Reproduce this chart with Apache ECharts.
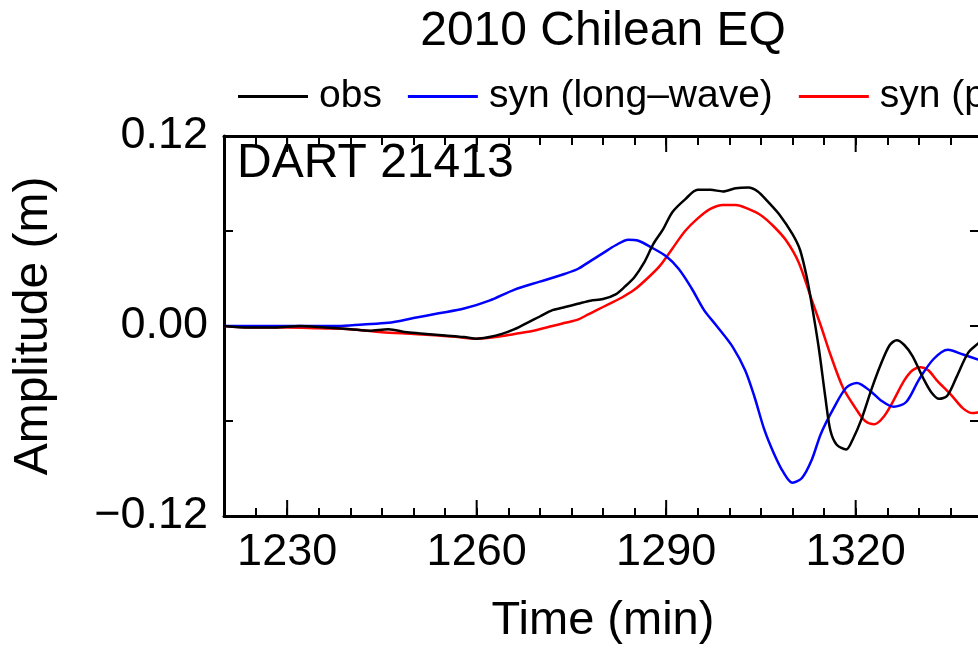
<!DOCTYPE html>
<html>
<head>
<meta charset="utf-8">
<script src="https://cdn.jsdelivr.net/npm/echarts@6/dist/echarts.min.js"></script>
<style>
html, body { margin: 0; padding: 0; overflow: hidden; background: #fff; width: 978px; height: 650px; }
#chart { width: 1206px; height: 650px; }
</style>
</head>
<body>
<div id="chart"></div>
<script>
// ---- data (time in min, amplitude in m) ----
const titleText = '2010 Chilean EQ';
const stationText = 'DART 21413';
const seriesNames = ['obs', 'syn (long\u2013wave)', 'syn (phase\u2013corrected)'];
const xLabelValues = [1230, 1260, 1290, 1320];
const yLabelValues = [-0.12, 0, 0.12];

const timeObs = [1220,1224,1228,1232,1236,1240,1243,1246,1249,1252,1255,1258,1260,1262,1264,1266,1268,1270,1272,1274,1276,1278,1280,1282,1283.5,1285,1286.5,1288,1289.5,1291,1293,1295,1297,1299,1301,1303,1304.5,1306,1308,1310,1311.2,1312.3,1313.2,1314.2,1315.2,1316,1317,1318.5,1319.5,1321,1322.5,1324,1325.4,1326.5,1327.7,1329,1330.7,1332,1333.2,1334.5,1336,1337.8,1339.4,1340];
const obs = [0.000,-0.001,-0.001,0.000,-0.001,-0.002,-0.003,-0.002,-0.004,-0.005,-0.006,-0.007,-0.008,-0.007,-0.005,-0.002,0.002,0.006,0.010,0.012,0.014,0.016,0.017,0.020,0.025,0.031,0.040,0.052,0.061,0.072,0.080,0.086,0.086,0.085,0.087,0.0875,0.085,0.079,0.070,0.058,0.048,0.030,0.010,-0.015,-0.045,-0.066,-0.075,-0.078,-0.072,-0.058,-0.040,-0.024,-0.012,-0.009,-0.012,-0.019,-0.033,-0.042,-0.046,-0.044,-0.032,-0.017,-0.011,-0.009];

const timeLong = [1220,1230,1238,1242,1246,1250,1254,1258,1262,1266,1270,1274,1276,1278,1280,1282,1284,1285.5,1287.5,1290,1292,1294,1296,1298,1300.5,1302.5,1304,1305.5,1307,1308.5,1310,1311.5,1313,1314.5,1316.5,1318.5,1320.2,1322.3,1324,1326,1328,1330,1332.3,1334.6,1337,1340];
const synLong = [0.000,0.000,0.000,0.001,0.002,0.005,0.008,0.011,0.016,0.023,0.028,0.033,0.036,0.041,0.046,0.051,0.0545,0.054,0.050,0.044,0.036,0.024,0.010,0.000,-0.013,-0.028,-0.045,-0.065,-0.080,-0.092,-0.099,-0.096,-0.085,-0.068,-0.052,-0.039,-0.036,-0.041,-0.047,-0.051,-0.048,-0.034,-0.021,-0.015,-0.018,-0.022];

const timePhase = [1220,1225,1230,1235,1240,1245,1250,1254,1257,1260,1263,1266,1269,1272,1274,1276,1277.5,1279,1281,1283,1285,1287,1289,1291,1293,1295,1297,1299,1301,1303,1305,1307,1309,1311,1313,1314.5,1316,1318,1320,1321.5,1323,1324.5,1326,1327.6,1329,1330.3,1331.5,1333,1335,1337,1338.5,1340];
const synPhase = [0.000,-0.001,-0.001,-0.0015,-0.002,-0.004,-0.005,-0.006,-0.007,-0.008,-0.007,-0.005,-0.003,0.000,0.002,0.004,0.007,0.010,0.014,0.018,0.023,0.030,0.038,0.049,0.060,0.068,0.074,0.0765,0.0765,0.074,0.070,0.063,0.054,0.040,0.017,0.000,-0.018,-0.039,-0.052,-0.060,-0.062,-0.057,-0.047,-0.035,-0.028,-0.026,-0.028,-0.035,-0.043,-0.052,-0.055,-0.054];

const colors = ['#000000', '#0000ff', '#ff0000'];
const FONT = 'Liberation Sans, Arial, Helvetica, sans-serif';
const Y_MIN = -0.12, Y_MAX = 0.12;
const MAJOR_TICK_LEN = 16;

function pairs(t, v) { return t.map((x, i) => [x, v[i]]); }

const chart = echarts.init(document.getElementById('chart'), null, { renderer: 'canvas' });

const frameLine = { show: true, onZero: false, lineStyle: { color: '#000', width: 3 } };

chart.setOption({
  animation: false,
  backgroundColor: '#fff',
  title: {
    text: titleText, left: 'center', top: 3,
    textStyle: { fontFamily: FONT, fontSize: 48, fontWeight: 'normal', color: '#000' }
  },
  legend: {
    left: 238, top: 77, width: 1400, padding: 0,
    itemWidth: 70, itemHeight: 3, itemGap: 26,
    icon: 'rect',
    data: seriesNames,
    textStyle: { fontFamily: FONT, fontSize: 39, color: '#000', padding: [0, 0, 0, 6] }
  },
  graphic: [{
    type: 'text', left: 237, top: 140,
    style: { text: stationText, font: '48px ' + FONT, fill: '#000' }
  }],
  grid: { left: 224, right: 224, top: 136, bottom: 132, containLabel: false },
  xAxis: [
    {
      type: 'value', position: 'bottom', min: 1220, max: 1340, interval: 5,
      name: 'Time (min)', nameLocation: 'middle', nameGap: 82,
      nameTextStyle: { fontFamily: FONT, fontSize: 47, color: '#000' },
      axisLine: frameLine,
      axisTick: { show: true, inside: true, length: 8, lineStyle: { color: '#000', width: 2 } },
      axisLabel: {
        show: true, margin: 14, fontFamily: FONT, fontSize: 45, color: '#000',
        formatter: v => (xLabelValues.indexOf(v) >= 0 ? String(v) : '')
      },
      splitLine: { show: false }
    },
    {
      type: 'value', position: 'top', min: 1220, max: 1340, interval: 5,
      axisLine: frameLine,
      axisTick: { show: true, inside: true, length: 9, lineStyle: { color: '#000', width: 2 } },
      axisLabel: { show: false }, splitLine: { show: false }
    }
  ],
  yAxis: [
    {
      type: 'value', position: 'left', min: Y_MIN, max: Y_MAX, interval: 0.06,
      name: 'Amplitude (m)', nameLocation: 'middle', nameGap: 166,
      nameTextStyle: { fontFamily: FONT, fontSize: 48, color: '#000' },
      axisLine: frameLine,
      axisTick: { show: true, inside: true, length: 9, lineStyle: { color: '#000', width: 2 } },
      axisLabel: {
        show: true, margin: 16, fontFamily: FONT, fontSize: 45, color: '#000',
        formatter: v => {
          const hit = yLabelValues.some(y => Math.abs(y - v) < 1e-9);
          if (!hit) return '';
          if (Math.abs(v) < 1e-9) return '0.00';
          return (v < 0 ? '\u2212' : '') + Math.abs(v).toFixed(2);
        }
      },
      splitLine: { show: false }
    },
    {
      type: 'value', position: 'right', min: Y_MIN, max: Y_MAX, interval: 0.06,
      axisLine: frameLine,
      axisTick: { show: true, inside: true, length: 12, lineStyle: { color: '#000', width: 2 } },
      axisLabel: { show: false }, splitLine: { show: false }
    }
  ],
  series: [
    { name: seriesNames[0], type: 'line', xAxisIndex: 0, yAxisIndex: 0, data: pairs(timeObs, obs), showSymbol: false, smooth: 0.3, lineStyle: { color: colors[0], width: 2.5 }, itemStyle: { color: colors[0] }, z: 5 },
    { name: seriesNames[1], type: 'line', xAxisIndex: 0, yAxisIndex: 0, data: pairs(timeLong, synLong), showSymbol: false, smooth: 0.3, lineStyle: { color: colors[1], width: 2.5 }, itemStyle: { color: colors[1] }, z: 4 },
    { name: seriesNames[2], type: 'line', xAxisIndex: 0, yAxisIndex: 0, data: pairs(timePhase, synPhase), showSymbol: false, smooth: 0.3, lineStyle: { color: colors[2], width: 2.5 }, itemStyle: { color: colors[2] }, z: 3 },
    {
      name: 'majorTicks', type: 'custom', xAxisIndex: 0, yAxisIndex: 0, silent: true, clip: false, z: 10,
      data: xLabelValues.map(v => [v, 0]),
      renderItem: (params, api) => {
        const v = api.value(0);
        const b = api.coord([v, Y_MIN]);
        const t = api.coord([v, Y_MAX]);
        return {
          type: 'group',
          children: [
            { type: 'line', shape: { x1: b[0], y1: b[1], x2: b[0], y2: b[1] - MAJOR_TICK_LEN }, style: { stroke: '#000', lineWidth: 2 } },
            { type: 'line', shape: { x1: t[0], y1: t[1], x2: t[0], y2: t[1] + MAJOR_TICK_LEN }, style: { stroke: '#000', lineWidth: 2 } }
          ]
        };
      }
    }
  ]
});
</script>
</body>
</html>
